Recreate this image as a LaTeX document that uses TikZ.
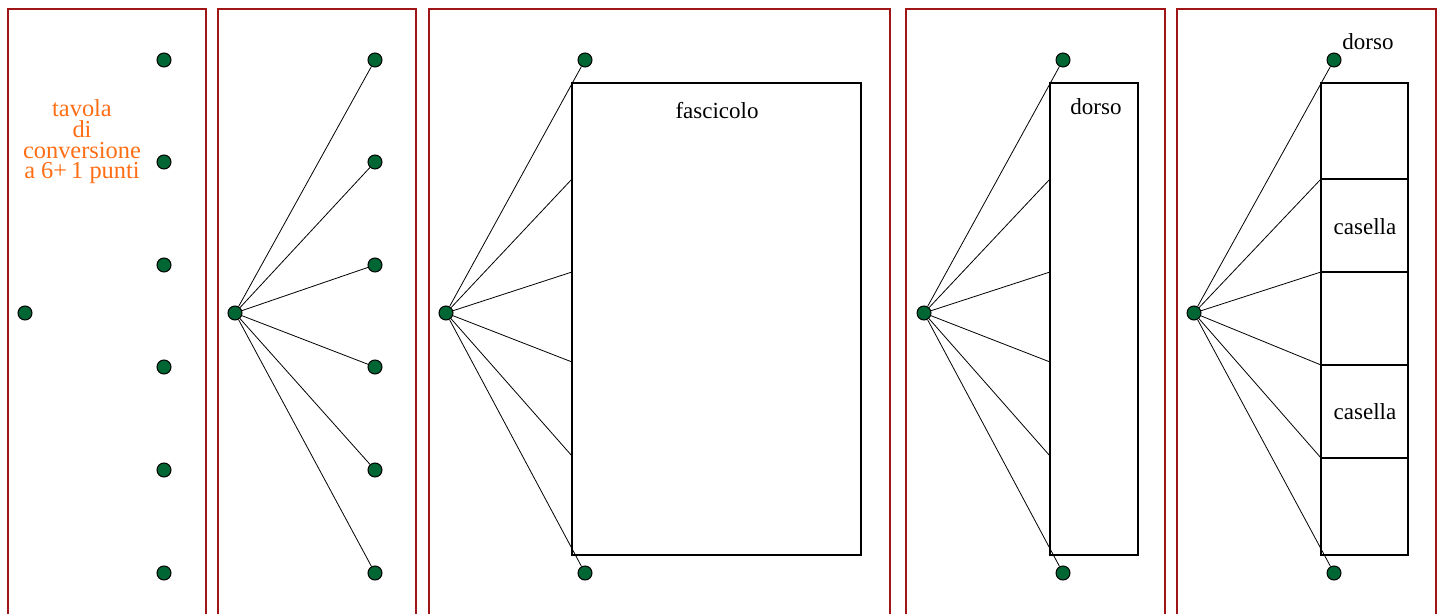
\documentclass[tikz,border=0pt]{standalone}
\usepackage{fontspec}
\setmainfont{Liberation Serif}
\definecolor{framered}{RGB}{160,22,22}
\definecolor{dotgreen}{RGB}{0,102,51}
\definecolor{orangetxt}{RGB}{255,110,20}
\tikzset{
  frame/.style={draw=framered,line width=1.1pt},
  dot/.style={circle,draw=black,line width=0.5pt,fill=dotgreen,minimum size=7pt,inner sep=0pt},
  conn/.style={line width=0.4pt},
  boxline/.style={draw=black,line width=0.6pt},
  cell/.style={draw=black,line width=0.8pt},
  lbl/.style={font=\fontsize{11.5pt}{13pt}\selectfont,inner sep=0pt}
}
\begin{document}
\begin{tikzpicture}[x=0.5pt,y=-0.5pt]
\useasboundingbox (0,0) rectangle (1445,614);
\clip (0,0) rectangle (1445,614);
% frames
\draw[frame] (8,9) rectangle (206,640);
\draw[frame] (218,9) rectangle (416,640);
\draw[frame] (429,9) rectangle (890,640);
\draw[frame] (906,9) rectangle (1165,640);
\draw[frame] (1177,9) rectangle (1436,640);

% panel 1
\node[dot] (h1) at (25,313) {};
\foreach \i/\y in {1/60,2/162,3/265,4/367,5/470,6/573}{\node[dot] (a\i) at (164,\y) {};}
\node[align=center,text=orangetxt,inner sep=0pt,font=\fontsize{12.2pt}{10.3pt}\selectfont] (title) at (82,142) {tavola\\di\\conversione\\a 6+\,1 punti};

% panel 2
\node[dot] (h2) at (235,313) {};
\foreach \i/\y in {1/60,2/162,3/265,4/367,5/470,6/573}{\node[dot] (b\i) at (375,\y) {};}
\foreach \i in {1,...,6}{\draw[conn] (h2) -- (b\i);}

% panel 3
\draw[boxline] (572,83) rectangle (861,555);
\node[lbl] (fasc) at (717,111) {fascicolo};
\node[dot] (h3) at (446,313) {};
\node[dot] (c1) at (585,60) {};
\node[dot] (c6) at (585,573) {};
\coordinate (c2) at (572,179);
\coordinate (c3) at (572,272);
\coordinate (c4) at (572,362);
\coordinate (c5) at (572,456);
\foreach \i in {1,...,6}{\draw[conn] (h3) -- (c\i);}

% panel 4
\draw[boxline] (1050,83) rectangle (1138,555);
\node[lbl] (dorso4) at (1096,107) {dorso};
\node[dot] (h4) at (924,313) {};
\node[dot] (d1) at (1063,60) {};
\node[dot] (d6) at (1063,573) {};
\coordinate (d2) at (1050,179);
\coordinate (d3) at (1050,272);
\coordinate (d4) at (1050,362);
\coordinate (d5) at (1050,456);
\foreach \i in {1,...,6}{\draw[conn] (h4) -- (d\i);}

% panel 5
\draw[boxline] (1321,83) rectangle (1408,555);
\draw[boxline] (1321,458) -- (1408,458);
\draw[cell] (1321,179) rectangle (1408,272);
\draw[cell] (1321,365) rectangle (1408,458);
\node[lbl] (cas1) at (1365,227) {casella};
\node[lbl] (cas2) at (1365,412) {casella};
\node[dot] (h5) at (1194,313) {};
\node[dot] (e1) at (1334,60) {};
\node[dot] (e6) at (1334,573) {};
\node[lbl] (dorso5) at (1368,42) {dorso};
\coordinate (e2) at (1321,179);
\coordinate (e3) at (1321,272);
\coordinate (e4) at (1321,365);
\coordinate (e5) at (1321,458);
\foreach \i in {1,...,6}{\draw[conn] (h5) -- (e\i);}
\end{tikzpicture}
\end{document}
